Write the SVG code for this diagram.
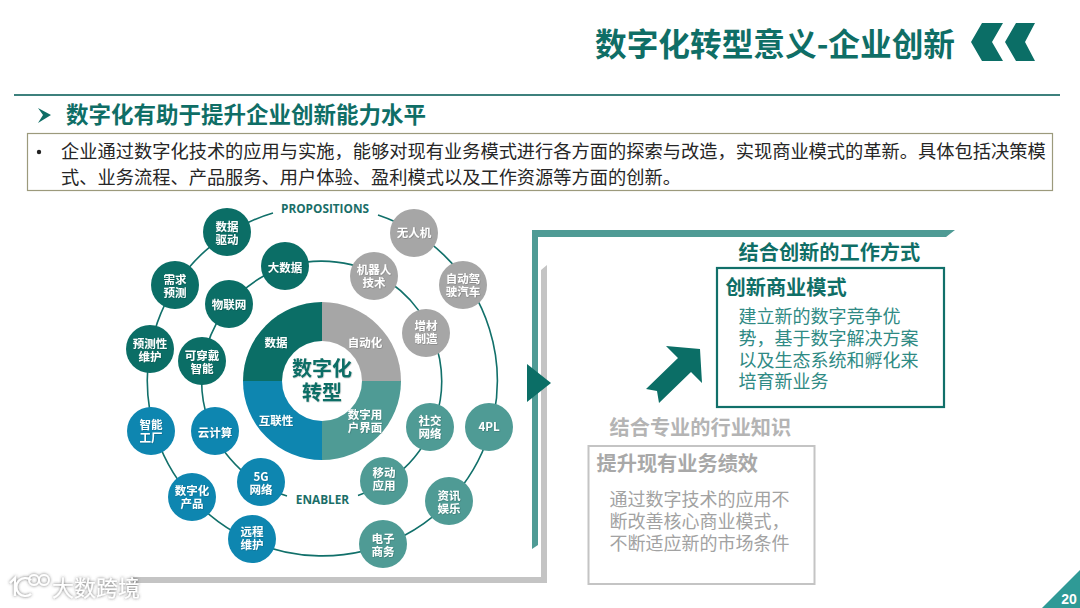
<svg xmlns="http://www.w3.org/2000/svg" width="1080" height="608" viewBox="0 0 1080 608">
<style>
text{font-family:"Noto Sans CJK SC","Liberation Sans",sans-serif;}
.c{text-anchor:middle}
.n{font-size:11.500px;font-weight:700;fill:#fff;text-anchor:middle;filter:url(#ts)}
.dk{fill:#0b6e66}.gy{fill:#a6a6a6}.bl{fill:#0e86b0}.tl{fill:#4f9b95}
.ring{fill:none;stroke:#11706a;stroke-width:1.6}
.lat{font-family:"Open Sans","Liberation Sans",sans-serif;font-weight:700;font-size:11.800px;fill:#1a6e68;text-anchor:middle}
.h{font-weight:700;font-size:20.200px}
.gt{fill:#0f6e66}.ga{fill:#b4b4b4}
.bt{font-size:18px;fill:#2f8a84}
.bg{font-size:18px;fill:#a2a2a2}
.body{font-size:18.240px;fill:#262626}
</style>
<defs>
<filter id="ts" x="-20%" y="-20%" width="140%" height="140%"><feDropShadow dx="0.5" dy="0.5" stdDeviation="0.5" flood-color="#000" flood-opacity="0.3"/></filter>
<filter id="wm" x="-20%" y="-30%" width="140%" height="160%"><feDropShadow dx="0" dy="0" stdDeviation="1.4" flood-color="#444" flood-opacity="0.85"/></filter>
</defs>
<rect width="1080" height="608" fill="#fff"/>

<g id="header">
<text x="595" y="56" font-size="32" font-weight="700" class="gt" textLength="360" lengthAdjust="spacingAndGlyphs">数字化转型意义-企业创新</text>
<path class="dk" d="M982 23H1003L992 42L1003 61H982L971 42Z"/>
<path class="dk" d="M1016 23H1035L1025 42L1035 61H1016L1005 42Z"/>
<rect x="14" y="94" width="1046" height="2" fill="#3d817d"/>
<path d="M38 108L51 115L38 123L43 115Z" fill="#0f6e66"/>
<text x="66" y="123" font-size="22.500" font-weight="700" class="gt">数字化有助于提升企业创新能力水平</text>
</g>

<g id="summary">
<rect x="27.500" y="133.500" width="1025" height="57" fill="#fff" stroke="#9c9a7c" stroke-width="1.200"/>
<circle cx="39" cy="152" r="2.200" fill="#222"/>
<text x="61" y="158" class="body">企业通过数字化技术的应用与实施，能够对现有业务模式进行各方面的探索与改造，实现商业模式的革新。具体包括决策模</text>
<text x="61" y="184" class="body">式、业务流程、产品服务、用户体验、盈利模式以及工作资源等方面的创新。</text>
</g>

<g id="frames">
<path d="M133 577H541V270L547 265V583H133Z" fill="#c4c4c4"/>
<path d="M532 230H955L946 237H538V545L532 549Z" fill="#4f9b95"/>
<path d="M527 364L551 383L527 402Z" fill="#0b6e66"/>
<path d="M666 346L700 349L702 383L691 372L659 403L657 391L646 389L678 358Z" fill="#0b6e66"/>
</g>

<g id="connectors">
<path class="ring" d="M378 215A175 175 0 1 1 273 213"/>
<path class="ring" d="M287 496A120 120 0 1 1 358 495.500"/>
</g>

<g id="hub">
<path class="dk" d="M243 381A79 79 0 0 1 322 302V381Z"/>
<path class="gy" d="M322 302A79 79 0 0 1 401 381H322Z"/>
<path class="tl" d="M401 381A79 79 0 0 1 322 460V381Z"/>
<path class="bl" d="M322 460A79 79 0 0 1 243 381H322Z"/>
<circle cx="322" cy="381" r="40" fill="#fff"/>
<text x="322" y="376" font-size="20" font-weight="700" class="gt c" filter="url(#ts)">数字化</text>
<text x="322" y="400" font-size="20" font-weight="700" class="gt c" filter="url(#ts)">转型</text>
<text x="276" y="347" class="n">数据</text>
<text x="365" y="347" class="n">自动化</text>
<text x="276" y="425" class="n">互联性</text>
<text x="365" y="419" class="n">数字用</text>
<text x="365" y="432" class="n">户界面</text>
</g>

<g id="label-propositions"><text x="325" y="213" class="lat">PROPOSITIONS</text></g>
<g id="label-enabler"><text x="322.500" y="504" class="lat">ENABLER</text></g>

<g id="n-sjqd"><circle cx="227" cy="232" r="24" class="dk"/><text x="227" y="231" class="n">数据</text><text x="227" y="244" class="n">驱动</text></g>
<g id="n-xqyc"><circle cx="175" cy="285" r="24" class="dk"/><text x="175" y="284" class="n">需求</text><text x="175" y="297" class="n">预测</text></g>
<g id="n-ycxwh"><circle cx="150" cy="349" r="24" class="dk"/><text x="150" y="348" class="n">预测性</text><text x="150" y="361" class="n">维护</text></g>
<g id="n-dsj"><circle cx="285" cy="266" r="24" class="dk"/><text x="285" y="272" class="n">大数据</text></g>
<g id="n-wlw"><circle cx="229" cy="304" r="24" class="dk"/><text x="229" y="309" class="n">物联网</text></g>
<g id="n-kcd"><circle cx="202" cy="361" r="24" class="dk"/><text x="202" y="360" class="n">可穿戴</text><text x="202" y="373" class="n">智能</text></g>
<g id="n-wrj"><circle cx="414" cy="233" r="24" class="gy"/><text x="414" y="237" class="n">无人机</text></g>
<g id="n-jqr"><circle cx="374" cy="276" r="24" class="gy"/><text x="374" y="274" class="n">机器人</text><text x="374" y="287" class="n">技术</text></g>
<g id="n-zdjs"><circle cx="463" cy="285" r="24" class="gy"/><text x="463" y="283" class="n">自动驾</text><text x="463" y="296" class="n">驶汽车</text></g>
<g id="n-zc"><circle cx="426" cy="333" r="24" class="gy"/><text x="426" y="330" class="n">增材</text><text x="426" y="343" class="n">制造</text></g>
<g id="n-zngc"><circle cx="151" cy="431" r="24" class="bl"/><text x="151" y="429" class="n">智能</text><text x="151" y="442" class="n">工厂</text></g>
<g id="n-yjs"><circle cx="215" cy="431" r="24" class="bl"/><text x="215" y="437" class="n">云计算</text></g>
<g id="n-szhcp"><circle cx="192" cy="497" r="24" class="bl"/><text x="192" y="495" class="n">数字化</text><text x="192" y="508" class="n">产品</text></g>
<g id="n-5g"><circle cx="261" cy="482" r="24" class="bl"/><text x="261" y="481" class="n">5G</text><text x="261" y="494" class="n">网络</text></g>
<g id="n-ycwh"><circle cx="252" cy="539" r="24" class="bl"/><text x="252" y="536" class="n">远程</text><text x="252" y="549" class="n">维护</text></g>
<g id="n-dzsw"><circle cx="383" cy="544" r="24" class="tl"/><text x="383" y="543" class="n">电子</text><text x="383" y="556" class="n">商务</text></g>
<g id="n-zxyl"><circle cx="449" cy="501" r="24" class="tl"/><text x="449" y="500" class="n">资讯</text><text x="449" y="513" class="n">娱乐</text></g>
<g id="n-ydyy"><circle cx="384" cy="481" r="24" class="tl"/><text x="384" y="477" class="n">移动</text><text x="384" y="490" class="n">应用</text></g>
<g id="n-sjwl"><circle cx="430" cy="427" r="24" class="tl"/><text x="430" y="425" class="n">社交</text><text x="430" y="438" class="n">网络</text></g>
<g id="n-4pl"><circle cx="489" cy="427" r="24" class="tl"/><text x="489" y="431" class="n">4PL</text></g>

<g id="innovation">
<text x="738.500" y="260" class="h gt">结合创新的工作方式</text>
<rect x="717" y="268" width="227" height="139" fill="#fff" stroke="#11706a" stroke-width="2.200"/>
<text x="725.500" y="295" class="h gt">创新商业模式</text>
<text x="738.500" y="323" class="bt">建立新的数字竞争优</text>
<text x="738.500" y="345" class="bt">势，基于数字解决方案</text>
<text x="738.500" y="367" class="bt">以及生态系统和孵化来</text>
<text x="738.500" y="388" class="bt">培育新业务</text>
</g>

<g id="industry">
<text x="609.500" y="435" class="h ga">结合专业的行业知识</text>
<rect x="588.500" y="446" width="226" height="138" fill="#fff" stroke="#c4c4c4" stroke-width="2"/>
<text x="596.500" y="471" class="h" fill="#a8a8a8">提升现有业务绩效</text>
<text x="609.500" y="506" class="bg">通过数字技术的应用不</text>
<text x="609.500" y="528" class="bg">断改善核心商业模式，</text>
<text x="609.500" y="550" class="bg">不断适应新的市场条件</text>
</g>

<g id="page">
<path d="M1042 608L1080 570V608Z" fill="#2f9a96"/>
<text x="1069" y="604" font-size="14" font-weight="700" fill="#fff" class="c" style="font-family:'Liberation Sans',sans-serif">20</text>
</g>

<g id="watermark" filter="url(#wm)">
<path d="M10 583L15 578V596M31 580A9 9 0 1 0 31 594" fill="none" stroke="#fff" stroke-width="2.200"/>
<circle cx="34" cy="580" r="5" fill="none" stroke="#fff" stroke-width="1.800"/>
<circle cx="44" cy="580" r="5" fill="none" stroke="#fff" stroke-width="1.800"/>
<text x="52" y="596" font-size="22" fill="#fff">大数跨境</text>
</g>
</svg>
